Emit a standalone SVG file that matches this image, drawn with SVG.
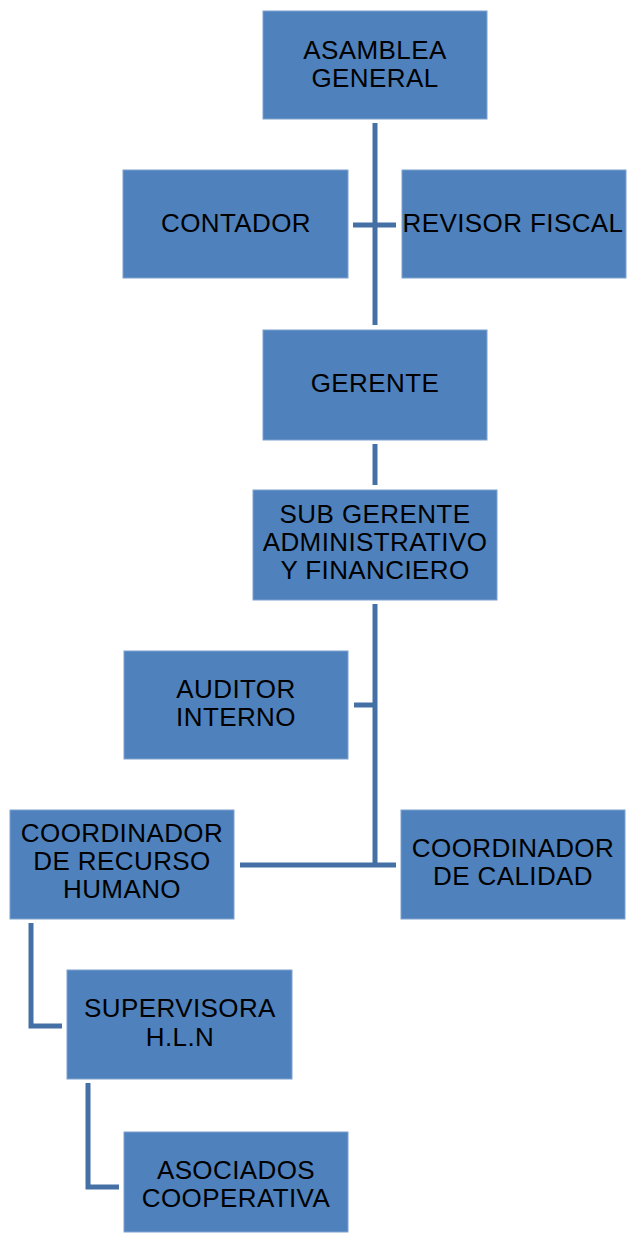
<svg xmlns="http://www.w3.org/2000/svg" width="627" height="1234" viewBox="0 0 627 1234">
<style>
.box{fill:#4f81bd;stroke:#7fa2cf;stroke-width:1}
.t{font-family:"Liberation Sans",Arial,sans-serif;font-size:26px;letter-spacing:0.4px;fill:#000000;text-anchor:middle}
.c{fill:none;stroke:#4470a6;stroke-width:5;stroke-linecap:butt;stroke-linejoin:miter}
</style>
<rect width="627" height="1234" fill="#ffffff"/>
<g id="connectors">
<path class="c" d="M375 123V325"/>
<path class="c" d="M353 225H396"/>
<path class="c" d="M375 444V485"/>
<path class="c" d="M375 604V867"/>
<path class="c" d="M354 705H375"/>
<path class="c" d="M240 865H396"/>
<path class="c" d="M31 923V1026H62"/>
<path class="c" d="M88 1083V1187H119"/>
</g>
<g id="asamblea">
<rect class="box" x="263" y="11" width="224" height="108"/>
<text class="t" x="375" y="59">ASAMBLEA</text>
<text class="t" x="375" y="87">GENERAL</text>
</g>
<g id="contador">
<rect class="box" x="123" y="170" width="225" height="108"/>
<text class="t" x="236" y="232">CONTADOR</text>
</g>
<g id="revisor">
<rect class="box" x="402" y="170" width="224" height="108"/>
<text class="t" x="513" y="232">REVISOR FISCAL</text>
</g>
<g id="gerente">
<rect class="box" x="263" y="330" width="224" height="110"/>
<text class="t" x="375" y="392">GERENTE</text>
</g>
<g id="subgerente">
<rect class="box" x="253" y="490" width="244" height="110"/>
<text class="t" x="375" y="523">SUB GERENTE</text>
<text class="t" x="375" y="551">ADMINISTRATIVO</text>
<text class="t" x="375" y="579">Y FINANCIERO</text>
</g>
<g id="auditor">
<rect class="box" x="124" y="651" width="224" height="108"/>
<text class="t" x="236" y="698">AUDITOR</text>
<text class="t" x="236" y="726">INTERNO</text>
</g>
<g id="coord-rh">
<rect class="box" x="10" y="810" width="224" height="109"/>
<text class="t" x="122" y="842">COORDINADOR</text>
<text class="t" x="122" y="870">DE RECURSO</text>
<text class="t" x="122" y="898">HUMANO</text>
</g>
<g id="coord-calidad">
<rect class="box" x="401" y="810" width="224" height="109"/>
<text class="t" x="513" y="857">COORDINADOR</text>
<text class="t" x="513" y="885">DE CALIDAD</text>
</g>
<g id="supervisora">
<rect class="box" x="67" y="970" width="225" height="109"/>
<text class="t" x="180" y="1017">SUPERVISORA</text>
<text class="t" x="180" y="1046">H.L.N</text>
</g>
<g id="asociados">
<rect class="box" x="124" y="1132" width="224" height="100"/>
<text class="t" x="236" y="1179">ASOCIADOS</text>
<text class="t" x="236" y="1207">COOPERATIVA</text>
</g>
</svg>
